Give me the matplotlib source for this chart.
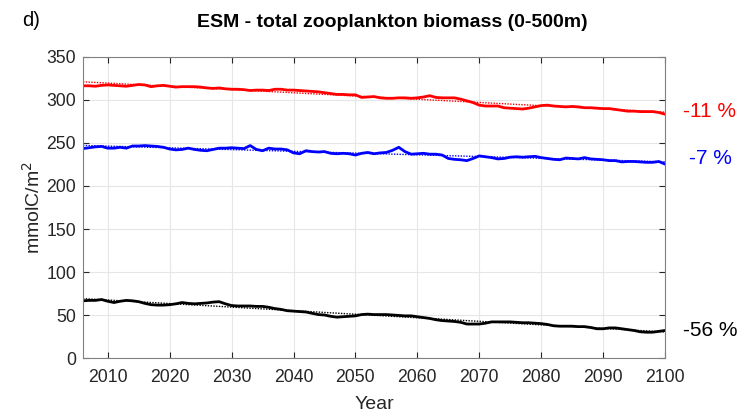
import numpy as np
import matplotlib
matplotlib.use("Agg")
import matplotlib.pyplot as plt

plt.rcParams['font.family'] = ['Liberation Sans', 'DejaVu Sans']

years = np.arange(2006, 2101)

# total zooplankton biomass (mmolC/m2)
red_vals = [316.5, 316.5, 316, 317, 317.5, 317, 316.5, 316, 317, 318,
            317.5, 315.5, 316.5, 317, 316, 315, 315.5, 315.5, 315.5, 315,
            314, 313.5, 314, 313, 312.5, 312.5, 312, 311, 311.5, 311.5,
            311, 312.5, 312.5, 311.5, 311.5, 311, 310.5, 310, 309.5, 308.5,
            307.5, 306.5, 306.5, 306, 306, 303, 303.5, 304, 302.5, 302,
            302, 302.5, 302.5, 302, 302.5, 303.5, 305, 303, 302.5, 302.5,
            302.5, 301, 299, 297, 294, 293, 293, 293, 291, 290.5,
            290, 289.5, 290.5, 292, 293.5, 294, 293, 292.5, 292, 292.5,
            292, 291, 291, 290.5, 290, 290, 289, 288, 287, 287,
            286.5, 286.5, 286.5, 285.5, 283.5]
blue_vals = [243.5, 244.5, 245.5, 246, 244, 244, 245, 244, 246.5, 246.5,
             247, 246.5, 246, 245, 243, 242, 242.5, 244, 242.5, 241.5,
             241, 242.5, 244, 244, 244.5, 244, 243.5, 247, 242.5, 241,
             244, 243, 243, 242, 238.5, 237.5, 241, 240, 239.5, 240,
             238, 237.5, 238, 237.5, 236, 238, 239, 237.5, 238.5, 239,
             241.5, 245, 240, 237, 237.5, 238, 237, 237, 236, 232,
             231, 230.5, 229.5, 232, 235, 234, 233, 231.5, 232, 233.5,
             234, 233.5, 234, 234.5, 233, 232, 231, 230.5, 232.5, 232,
             231.5, 233, 231.5, 231, 230.5, 229.5, 229.5, 228, 228.5, 228.5,
             228, 227.5, 227.5, 228.5, 225.5]
black_vals = [66.5, 67, 67, 68, 66, 64.5, 66, 67, 66.5, 65.5,
              63.5, 62, 61.5, 61.5, 62, 63, 64.5, 63.5, 63, 63.5,
              64, 65, 65.5, 63, 61, 60.5, 60.5, 60.5, 60, 60,
              59, 57.5, 56.5, 55, 54.5, 54, 53.5, 52, 50.5, 50,
              48.5, 47.5, 48, 48.5, 49, 50.5, 51, 50.5, 50.5, 50.5,
              50, 49.5, 49, 49, 48, 47, 46, 44.5, 43.5, 43,
              42.5, 41.5, 39.5, 39.5, 39.5, 40.5, 42, 42, 42, 42,
              41.5, 41, 41, 40.5, 40, 39, 37.5, 37, 37, 37,
              36.5, 36.5, 35.5, 34, 34, 35, 35, 34, 33, 32,
              30.5, 30, 30, 31, 32]

series = [(red_vals, 'red', '-11 %'),
          (blue_vals, 'blue', '-7 %'),
          (black_vals, 'black', '-56 %')]
label_pos = [(0.909, 0.733), (0.917, 0.618), (0.909, 0.205)]

fig = plt.figure(figsize=(7.51, 4.16), dpi=100)
ax = fig.add_axes([0.1105, 0.1394, 0.7750, 0.7236])

for (vals, col, lab), (tx, ty) in zip(series, label_pos):
    vals = np.array(vals)
    # linear trend, dotted
    p = np.polyfit(years, vals, 1)
    ax.plot(years, np.polyval(p, years), color=col, lw=1.0, ls=(0, (1, 1)))
    ax.plot(years, vals, color=col, lw=2.0)
    fig.text(tx, ty, lab, color=col, fontsize=15, ha='left', va='center')

ax.set_xlim(2006, 2100)
ax.set_ylim(0, 350)
ax.set_xticks(np.arange(2010, 2101, 10))
ax.set_yticks(np.arange(0, 351, 50))
ax.grid(True, color='#e6e6e6', lw=0.8)
ax.set_axisbelow(True)
ax.tick_params(direction='in', top=True, right=True, labelsize=12.7,
               colors='#262626', length=4, width=0.8)
ax.tick_params(axis='x', pad=8)
ax.tick_params(axis='y', pad=5)
for tl in ax.get_xticklabels() + ax.get_yticklabels():
    tl.set_color('#262626')
for s in ax.spines.values():
    s.set_color('#808080')
    s.set_linewidth(0.8)

ax.set_xlabel('Year', fontsize=14, color='#262626', labelpad=7)
ax.set_ylabel('mmolC/m$^2$', fontsize=14, color='#262626', labelpad=2)

fig.text(0.523, 0.945, 'ESM - total zooplankton biomass (0-500m)',
         fontsize=14, fontweight='bold', ha='center', va='center')
fig.text(0.041, 0.95, 'd)', fontsize=14.5, ha='center', va='center')

fig.savefig('out.png', dpi=100)
